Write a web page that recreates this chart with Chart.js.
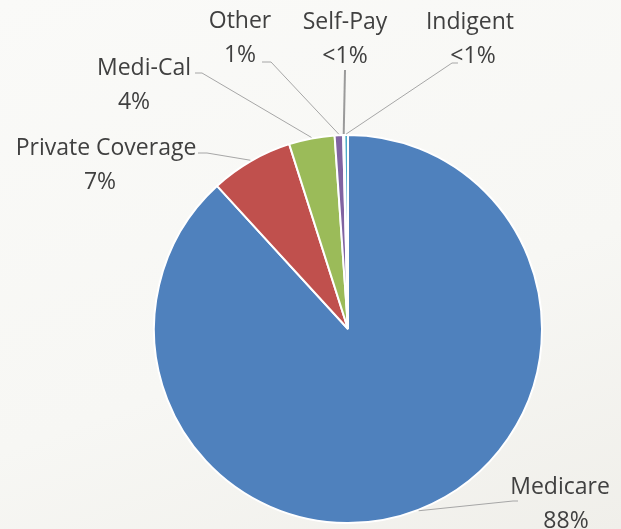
<!DOCTYPE html>
<html>
<head>
<meta charset="utf-8">
<script src="https://cdn.jsdelivr.net/npm/chart.js@4"></script>
<style>
  html, body { margin: 0; padding: 0; }
  body { width: 621px; height: 529px; background: linear-gradient(160deg, #fafaf8 0%, #f7f7f4 60%, #f0efea 100%); }
  #wrap { width: 621px; height: 529px; }
</style>
</head>
<body>
<div id="wrap"><canvas id="pie"></canvas></div>
<script>
const categories = ['Medicare', 'Private Coverage', 'Medi-Cal', 'Other', 'Self-Pay', 'Indigent'];
const shares = [88.2, 6.9, 3.8, 0.7, 0.1, 0.3];
const shareLabels = ['88%', '7%', '4%', '1%', '<1%', '<1%'];
const colors = ['#4f81bd', '#c0504d', '#9bbb59', '#8064a2', '#f79646', '#4bacc6'];

// label placement: text centre (x, y of first line), elbow and end of leader line
const labelLayout = [
  { x: 560, y: 487, dx: 6,  elbow: [513, 501], end: [518, 501] },
  { x: 106, y: 148, dx: -6, elbow: [207, 153], end: [198, 153] },
  { x: 144, y: 68,  dx: -10, elbow: [202, 73], end: [195, 73] },
  { x: 240, y: 21,  dx: 0,  elbow: [271, 62],  end: [262, 62] },
  { x: 345, y: 22,  dx: 0,  elbow: [345, 70],  end: [345, 70] },
  { x: 470, y: 22,  dx: 3,  elbow: [452, 63],  end: [458, 63] }
];

const leaderLabels = {
  id: 'leaderLabels',
  afterDatasetsDraw(chart) {
    const ctx = chart.ctx;
    const arcs = chart.getDatasetMeta(0).data;
    ctx.save();
    arcs.forEach((arc, i) => {
      const p = arc.getProps(['x', 'y', 'startAngle', 'endAngle', 'outerRadius'], true);
      const mid = (p.startAngle + p.endAngle) / 2;
      const ax = p.x + Math.cos(mid) * (p.outerRadius + 1);
      const ay = p.y + Math.sin(mid) * (p.outerRadius + 1);
      const L = labelLayout[i];
      ctx.strokeStyle = i === 4 ? '#9a9a9a' : '#a6a6a6';
      ctx.lineWidth = i === 4 ? 2 : 1;
      ctx.beginPath();
      ctx.moveTo(ax, ay);
      ctx.lineTo(L.elbow[0], L.elbow[1]);
      ctx.lineTo(L.end[0], L.end[1]);
      ctx.stroke();
      ctx.fillStyle = '#404040';
      ctx.font = '23px "Open Sans", "Noto Sans", sans-serif';
      ctx.textAlign = 'center';
      ctx.textBaseline = 'middle';
      ctx.fillText(categories[i], L.x, L.y);
      ctx.fillText(shareLabels[i], L.x + L.dx, L.y + 34);
    });
    ctx.restore();
  }
};

new Chart(document.getElementById('pie').getContext('2d'), {
  type: 'pie',
  data: {
    labels: categories,
    datasets: [{
      data: shares,
      backgroundColor: colors,
      borderColor: '#ffffff',
      borderWidth: 2
    }]
  },
  options: {
    responsive: true,
    maintainAspectRatio: false,
    animation: false,
    layout: { padding: { top: 134, bottom: 5, left: 153, right: 78 } },
    plugins: {
      legend: { display: false },
      tooltip: { enabled: false }
    }
  },
  plugins: [leaderLabels]
});
</script>
</body>
</html>
